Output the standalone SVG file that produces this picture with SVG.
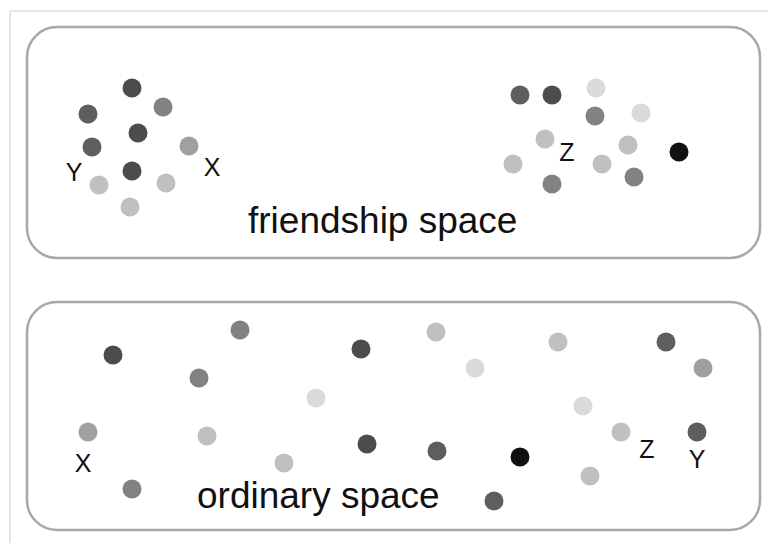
<svg xmlns="http://www.w3.org/2000/svg" width="768" height="543" viewBox="0 0 768 543">
<style>
.frame{fill:none;stroke:#dedede;stroke-width:1.5}
.box{fill:#fff;stroke:#a8a8a8;stroke-width:2.5}
.lbl{font-family:"Liberation Sans",Arial,sans-serif;font-size:25px;fill:#111;text-anchor:middle}
.title{font-family:"Liberation Sans",Arial,sans-serif;font-size:37px;fill:#111}
.d1{fill:#111}
.d2{fill:#4c4c4c}
.d3{fill:#5e5e5e}
.d4{fill:#828282}
.d5{fill:#a0a0a0}
.d6{fill:#c0c0c0}
.d7{fill:#dadada}
circle{stroke:none}
</style>
<rect width="768" height="543" fill="#fff"/>
<path class="frame" d="M10,543 V11 H768"/>
<g id="friendship-space">
<rect class="box" x="27" y="27" width="733" height="231" rx="30" ry="30"/>
<text class="title" x="248" y="233">friendship space</text>
</g>
<g id="ordinary-space">
<rect class="box" x="27" y="302" width="733" height="228" rx="30" ry="30"/>
<text class="title" x="197" y="508">ordinary space</text>
</g>
<g id="friendship-dots">
<circle class="d2" cx="132" cy="88" r="9.5"/>
<circle class="d3" cx="88" cy="114" r="9.5"/>
<circle class="d4" cx="163" cy="107" r="9.5"/>
<circle class="d2" cx="138" cy="133" r="9.5"/>
<circle class="d3" cx="92" cy="147" r="9.5"/>
<circle class="d5" cx="189" cy="146" r="9.5"/>
<circle class="d2" cx="132" cy="171" r="9.5"/>
<circle class="d6" cx="99" cy="185" r="9.5"/>
<circle class="d6" cx="166" cy="183" r="9.5"/>
<circle class="d6" cx="130" cy="207" r="9.5"/>
<circle class="d3" cx="520" cy="95" r="9.5"/>
<circle class="d2" cx="552" cy="95" r="9.5"/>
<circle class="d7" cx="596" cy="88" r="9.5"/>
<circle class="d4" cx="595" cy="116" r="9.5"/>
<circle class="d7" cx="641" cy="113" r="9.5"/>
<circle class="d6" cx="545" cy="139" r="9.5"/>
<circle class="d6" cx="628" cy="145" r="9.5"/>
<circle class="d1" cx="679" cy="152" r="9.5"/>
<circle class="d6" cx="513" cy="164" r="9.5"/>
<circle class="d6" cx="602" cy="164" r="9.5"/>
<circle class="d4" cx="552" cy="184" r="9.5"/>
<circle class="d4" cx="634" cy="177" r="9.5"/>
</g>
<g id="friendship-labels">
<text class="lbl" x="74" y="181">Y</text>
<text class="lbl" x="212" y="176">X</text>
<text class="lbl" x="567" y="161">Z</text>
</g>
<g id="ordinary-dots">
<circle class="d2" cx="113" cy="355" r="9.5"/>
<circle class="d4" cx="240" cy="330" r="9.5"/>
<circle class="d4" cx="199" cy="378" r="9.5"/>
<circle class="d2" cx="361" cy="349" r="9.5"/>
<circle class="d7" cx="316" cy="398" r="9.5"/>
<circle class="d5" cx="88" cy="432" r="9.5"/>
<circle class="d6" cx="207" cy="436" r="9.5"/>
<circle class="d6" cx="284" cy="463" r="9.5"/>
<circle class="d2" cx="367" cy="444" r="9.5"/>
<circle class="d4" cx="132" cy="489" r="9.5"/>
<circle class="d6" cx="436" cy="332" r="9.5"/>
<circle class="d7" cx="475" cy="368" r="9.5"/>
<circle class="d6" cx="558" cy="342" r="9.5"/>
<circle class="d3" cx="666" cy="342" r="9.5"/>
<circle class="d5" cx="703" cy="368" r="9.5"/>
<circle class="d7" cx="583" cy="406" r="9.5"/>
<circle class="d6" cx="621" cy="432" r="9.5"/>
<circle class="d3" cx="697" cy="432" r="9.5"/>
<circle class="d3" cx="437" cy="451" r="9.5"/>
<circle class="d1" cx="520" cy="457" r="9.5"/>
<circle class="d6" cx="590" cy="476" r="9.5"/>
<circle class="d3" cx="494" cy="501" r="9.5"/>
</g>
<g id="ordinary-labels">
<text class="lbl" x="83" y="472">X</text>
<text class="lbl" x="647" y="458">Z</text>
<text class="lbl" x="697" y="468">Y</text>
</g>
</svg>
